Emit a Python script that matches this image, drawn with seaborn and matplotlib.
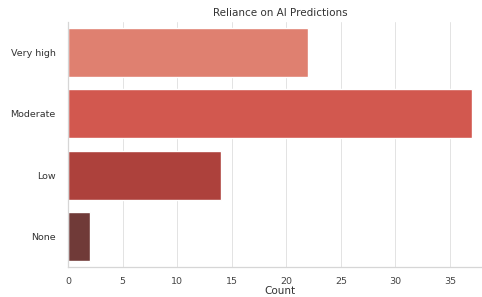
import pandas as pd
import seaborn as sns
import matplotlib.pyplot as plt

# Reliance levels and their counts
levels = ['Very high', 'Moderate', 'Low', 'None']
counts = [22, 37, 14, 2]

data = pd.DataFrame({'Reliance': levels, 'Count': counts})

sns.set_theme(style='whitegrid', rc={'grid.color': '#e3e3e3', 'grid.linewidth': 0.7,
                                     'axes.edgecolor': '#d6d6d6', 'axes.linewidth': 0.9})
plt.rcParams['font.family'] = ['DejaVu Sans']

fig = plt.figure(figsize=(4.82, 2.97), dpi=100)
ax = fig.add_axes([0.141, 0.101, 0.88, 0.825])

sns.barplot(data=data, x='Count', y='Reliance', hue='Reliance',
            palette='Reds_d', legend=False, ax=ax)

ax.set_title('Reliance on AI Predictions', fontsize=7.5, color='#333333', pad=4)
ax.set_xlabel('Count', fontsize=7.5, color='#333333', labelpad=0)
ax.set_ylabel('')
ax.tick_params(axis='x', labelsize=6.8, colors='#444444', pad=1.5)
ax.tick_params(axis='y', labelsize=6.8, colors='#333333', pad=3)
sns.despine(ax=ax, top=True, right=True)

fig.savefig('out.png', dpi=100)
